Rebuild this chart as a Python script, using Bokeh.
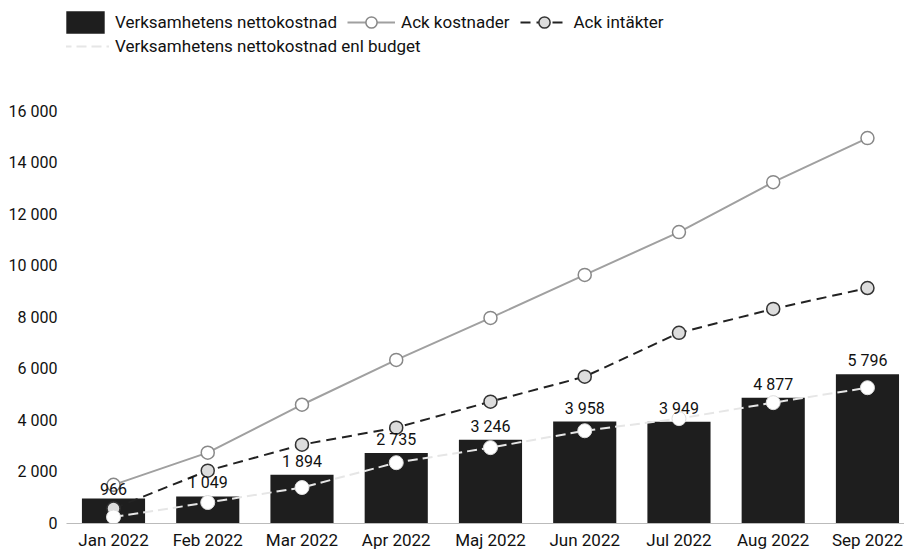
from bokeh.plotting import figure
from bokeh.models import Range1d, FixedTicker, Legend, LegendItem, ColumnDataSource
from bokeh.core.properties import value
from bokeh.embed import file_html
from bokeh.resources import INLINE

months = ["Jan 2022", "Feb 2022", "Mar 2022", "Apr 2022", "Maj 2022",
          "Jun 2022", "Jul 2022", "Aug 2022", "Sep 2022"]
nettokostnad = [966, 1049, 1894, 2735, 3246, 3958, 3949, 4877, 5796]
ack_kostnader = [1500, 2750, 4610, 6350, 7980, 9650, 11310, 13250, 14960]
ack_intakter = [580, 2050, 3060, 3720, 4730, 5700, 7400, 8330, 9140]
budget = [250, 815, 1395, 2360, 2945, 3600, 4070, 4690, 5270]
y_ticks = [0, 2000, 4000, 6000, 8000, 10000, 12000, 14000, 16000]
y_tick_labels = ["0", "2 000", "4 000", "6 000", "8 000", "10 000", "12 000", "14 000", "16 000"]

FONT = "Roboto"
idx = list(range(len(months)))
labels = [f"{v:,}".replace(",", " ") for v in nettokostnad]

src = ColumnDataSource(dict(x=idx, netto=nettokostnad, kost=ack_kostnader,
                            intak=ack_intakter, budget=budget, lab=labels))

p = figure(width=904, height=552, output_backend="svg", toolbar_location=None,
           x_range=Range1d(-0.4987, 8.393), y_range=Range1d(0, 20300),
           min_border_left=66, min_border_right=0, min_border_top=0,
           min_border_bottom=28)
p.outline_line_color = None
p.xgrid.visible = False
p.ygrid.visible = False
p.background_fill_color = "white"

bars = p.vbar(x="x", top="netto", width=0.67, source=src,
              fill_color="#1e1e1e", line_color=None)

kost_line = p.line("x", "kost", source=src, line_color="#a0a0a0", line_width=2)
kost_pts = p.scatter("x", "kost", source=src, size=13, fill_color="white",
                     line_color="#888888", line_width=1.5)

int_line = p.line("x", "intak", source=src, line_color="#222222", line_width=2,
                  line_dash="10 6")
int_pts = p.scatter("x", "intak", source=src, size=13, fill_color="#dddddd",
                    line_color="#333333", line_width=1.5)

bud_line = p.line("x", "budget", source=src, line_color="#e6e6e6", line_width=2,
                  line_dash="10 5")
bud_pts = p.scatter("x", "budget", source=src, size=14, fill_color="white",
                    line_color="#dddddd", line_width=1)

p.text(x="x", y="netto", text="lab", source=src, text_align="center",
       text_baseline="bottom", y_offset=-4, text_font=value(FONT),
       text_font_size="16px", text_color="#111111")

# axes
p.xaxis.ticker = FixedTicker(ticks=idx)
p.xaxis.major_label_overrides = {i: m for i, m in zip(idx, months)}
p.xaxis.major_label_text_font = FONT
p.xaxis.major_label_text_font_size = "17px"
p.xaxis.major_label_text_color = "#111111"
p.xaxis.major_tick_line_color = None
p.xaxis.minor_tick_line_color = None
p.xaxis.major_tick_out = 0
p.xaxis.major_tick_in = 0
p.xaxis.minor_tick_out = 0
p.xaxis.axis_line_color = "#bbbbbb"
p.xaxis.major_label_standoff = 6

p.yaxis.ticker = FixedTicker(ticks=y_ticks)
p.yaxis.major_label_overrides = {t: l for t, l in zip(y_ticks, y_tick_labels)}
p.yaxis.major_label_text_font = FONT
p.yaxis.major_label_text_font_size = "16px"
p.yaxis.major_label_text_color = "#111111"
p.yaxis.major_tick_line_color = None
p.yaxis.minor_tick_line_color = None
p.yaxis.major_tick_out = 0
p.yaxis.major_tick_in = 0
p.yaxis.minor_tick_out = 0
p.yaxis.axis_line_color = None
p.yaxis.major_label_standoff = 9

def style_legend(lg):
    lg.orientation = "horizontal"
    lg.background_fill_alpha = 0
    lg.border_line_alpha = 0
    lg.padding = 0
    lg.margin = 0
    lg.spacing = 10
    lg.glyph_width = 48
    lg.glyph_height = 28
    lg.label_standoff = 6
    lg.label_text_font = FONT
    lg.label_text_font_size = "17px"
    lg.label_text_color = "#111111"

leg1 = Legend(items=[
    LegendItem(label="Verksamhetens nettokostnad", renderers=[bars]),
    LegendItem(label="Ack kostnader", renderers=[kost_line, kost_pts]),
    LegendItem(label="Ack intäkter", renderers=[int_line, int_pts]),
], location=(-5, 487))
style_legend(leg1)

leg2 = Legend(items=[
    LegendItem(label="Verksamhetens nettokostnad enl budget", renderers=[bud_line]),
], location=(-5, 463))
style_legend(leg2)
p.add_layout(leg1)
p.add_layout(leg2)

open("out.html", "w").write(file_html(p, INLINE))
